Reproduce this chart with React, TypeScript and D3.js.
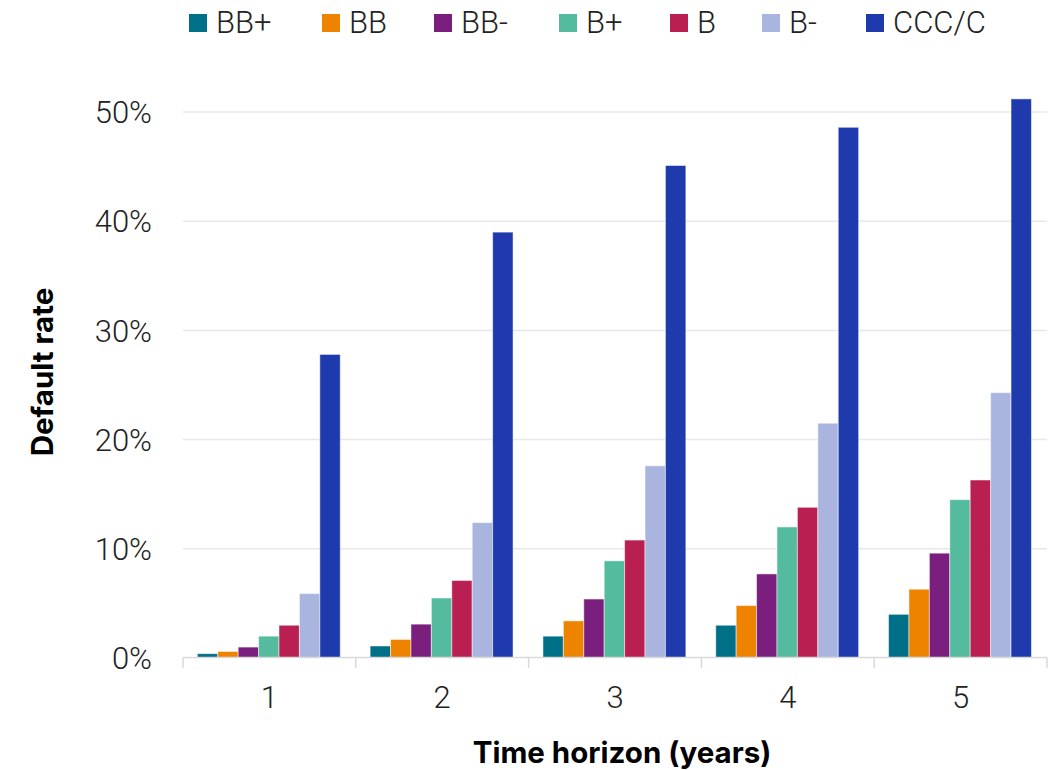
import React, { useEffect } from "react";
import * as d3 from "d3";

const horizons = ["1", "2", "3", "4", "5"];
const ratings = ["BB+", "BB", "BB-", "B+", "B", "B-", "CCC/C"];
const colors = ["#006f88", "#ee8300", "#7a1f7e", "#55bb9f", "#b91f51", "#a9b5de", "#1f3aac"];
const bbPlus = [0.4, 1.1, 2.0, 3.0, 4.0];
const bb = [0.6, 1.7, 3.4, 4.8, 6.3];
const bbMinus = [1.0, 3.1, 5.4, 7.7, 9.6];
const bPlus = [2.0, 5.5, 8.9, 12.0, 14.5];
const b = [3.0, 7.1, 10.8, 13.8, 16.3];
const bMinus = [5.9, 12.4, 17.6, 21.5, 24.3];
const ccc = [27.8, 39.0, 45.1, 48.6, 51.2];
const series = [bbPlus, bb, bbMinus, bPlus, b, bMinus, ccc];
const yTicks = [0, 10, 20, 30, 40, 50];
const legendX = [189, 322, 434, 559, 670, 762, 866];

const W = 1053;
const H = 770;
const left = 183;
const right = 1047;
const top = 112;
const bottom = 658;

const lightFont = "Roboto, 'Noto Sans', sans-serif";
const boldFont = "Inter, Roboto, sans-serif";

export default function App() {
  useEffect(() => {
    document.body.style.margin = "0";
  }, []);
  const x0 = d3.scaleBand().domain(horizons).range([left, right]).padding(0);
  const gw = x0.bandwidth();
  const x1 = d3.scaleBand().domain(ratings).range([gw * 0.083, gw * 0.91]).padding(0);
  const y = d3.scaleLinear().domain([0, 50]).range([bottom, top]);
  const boundaries = [...horizons.map((h) => x0(h) as number), right];

  return (
    <svg width={W} height={H} style={{ display: "block", background: "#fff" }}>
      {yTicks.map((t) => (
        <g key={t}>
          {t > 0 && (
            <line x1={left} x2={right} y1={y(t)} y2={y(t)} stroke="#e8e8e8" strokeWidth={1.5} />
          )}
          <text
            x={152}
            y={y(t)}
            dy="0.36em"
            textAnchor="end"
            fontFamily={lightFont}
            fontWeight={300}
            fontSize={31}
            fill="#222"
          >
            {t}%
          </text>
        </g>
      ))}
      {series.map((vals, si) => (
        <g key={ratings[si]}>
          {vals.map((v, i) => (
            <rect
              key={i}
              x={(x0(horizons[i]) as number) + (x1(ratings[si]) as number)}
              y={y(v)}
              width={x1.bandwidth()}
              height={y(0) - y(v)}
              fill={colors[si]}
              stroke="rgba(255,255,255,0.5)"
              strokeWidth={1}
            />
          ))}
        </g>
      ))}
      <line x1={left} x2={right} y1={bottom - 0.5} y2={bottom - 0.5} stroke="#d9d9d9" strokeWidth={1.5} />
      {boundaries.map((bx, i) => (
        <line key={i} x1={bx} x2={bx} y1={bottom - 0.5} y2={bottom + 10} stroke="#d9d9d9" strokeWidth={1.5} />
      ))}
      {horizons.map((h) => (
        <text
          key={h}
          x={(x0(h) as number) + gw / 2}
          y={708}
          textAnchor="middle"
          fontFamily={lightFont}
          fontWeight={300}
          fontSize={31}
          fill="#222"
        >
          {h}
        </text>
      ))}
      <text
        x={622}
        y={763}
        textAnchor="middle"
        fontFamily={boldFont}
        fontWeight={700}
        fontSize={29.5}
        fill="#000"
      >
        Time horizon (years)
      </text>
      <text
        transform={`translate(53,372) rotate(-90)`}
        textAnchor="middle"
        fontFamily={boldFont}
        fontWeight={700}
        fontSize={29.5}
        fill="#000"
      >
        Default rate
      </text>
      {ratings.map((r, i) => (
        <g key={r}>
          <rect x={legendX[i]} y={14} width={18} height={18} fill={colors[i]} />
          <text
            x={legendX[i] + 27}
            y={33}
            fontFamily={lightFont}
            fontWeight={300}
            fontSize={31}
            fill="#222"
          >
            {r}
          </text>
        </g>
      ))}
    </svg>
  );
}
